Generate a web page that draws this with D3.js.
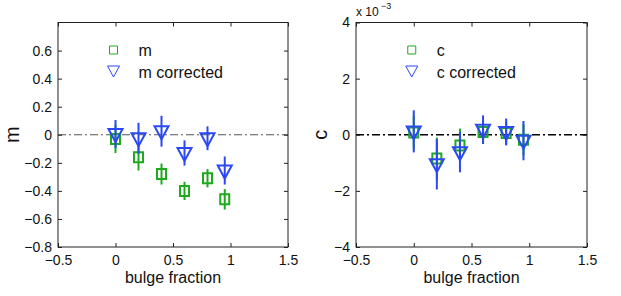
<!DOCTYPE html>
<html>
<head>
<meta charset="utf-8">
<script src="https://cdn.jsdelivr.net/npm/d3@7"></script>
<style>
body { margin: 0; background: #fff; }
text { font-family: "Liberation Sans", Arial, sans-serif; }
</style>
</head>
<body>
<script>
// bulge fraction positions
let fractions = [0, 0.2, 0.4, 0.6, 0.8, 0.95]

// left panel: m
let mVals = [-0.03, -0.16, -0.28, -0.40, -0.31, -0.46]
let mErr = [0.10, 0.095, 0.075, 0.065, 0.065, 0.073]
let mCorr = [0.005, -0.025, 0.025, -0.13, -0.025, -0.255]
let mCorrErr = [0.10, 0.11, 0.11, 0.09, 0.085, 0.10]

// right panel: c (units of 1e-3)
let cVals = [0.08, -0.85, -0.38, 0.10, 0.06, -0.18]
let cErr = [0.6, 0.75, 0.6, 0.42, 0.4, 0.55]
let cCorr = [0.12, -1.05, -0.62, 0.18, 0.10, -0.21]
let cCorrErr = [0.75, 0.9, 0.72, 0.51, 0.48, 0.70]

let xTicks = [-0.5, 0, 0.5, 1, 1.5]
let mTicks = [-0.8, -0.6, -0.4, -0.2, 0, 0.2, 0.4, 0.6]
let cTicks = [-4, -2, 0, 2, 4]

let width = 621
let height = 296
let green = '#1eaa1e'
let blue = '#2a48f5'

let svg = d3.select('body').append('svg')
    .attr('width', width)
    .attr('height', height)

function panel(opts){
    let x = d3.scaleLinear().domain([-0.5, 1.5]).range([opts.left, opts.right])
    let y = d3.scaleLinear().domain(opts.yDomain).range([247, 22.5])
    let g = svg.append('g')

    // zero reference line
    g.append('line')
        .attr('x1', x(-0.5)).attr('x2', x(1.5))
        .attr('y1', y(0)).attr('y2', y(0))
        .attr('stroke', opts.zeroColor)
        .attr('stroke-width', opts.zeroWidth)
        .attr('stroke-dasharray', '8,3,2,3')

    // box
    g.append('rect')
        .attr('x', x(-0.5)).attr('y', y(opts.yDomain[1]))
        .attr('width', x(1.5) - x(-0.5))
        .attr('height', y(opts.yDomain[0]) - y(opts.yDomain[1]))
        .attr('fill', 'none').attr('stroke', '#222').attr('stroke-width', 1)

    // axes (ticks inside)
    let xAxis = d3.axisBottom(x).tickValues(xTicks).tickSizeInner(-4).tickSizeOuter(0)
        .tickFormat(d => d3.format('')(d).replace('-', '\u2212'))
    let gx = g.append('g').attr('transform', 'translate(0,' + y(opts.yDomain[0]) + ')').call(xAxis)
    gx.select('.domain').remove()
    gx.selectAll('line').attr('stroke', '#222')
    gx.selectAll('text').attr('font-size', 14).attr('fill', '#111')
        .attr('transform', 'translate(0,5)')
    let gxt = g.append('g').attr('transform', 'translate(0,' + y(opts.yDomain[1]) + ')')
        .call(d3.axisTop(x).tickValues(xTicks).tickSizeInner(-4).tickSizeOuter(0).tickFormat(''))
    gxt.select('.domain').remove()
    gxt.selectAll('line').attr('stroke', '#222')

    let yAxis = d3.axisLeft(y).tickValues(opts.yTicks).tickSizeInner(-4).tickSizeOuter(0)
        .tickFormat(d => d3.format('')(d).replace('-', '\u2212'))
    let gy = g.append('g').attr('transform', 'translate(' + x(-0.5) + ',0)').call(yAxis)
    gy.select('.domain').remove()
    gy.selectAll('line').attr('stroke', '#222')
    gy.selectAll('text').attr('font-size', 14).attr('fill', '#111').attr('x', -6)
    let gyr = g.append('g').attr('transform', 'translate(' + x(1.5) + ',0)')
        .call(d3.axisRight(y).tickValues(opts.yTicks).tickSizeInner(-4).tickSizeOuter(0).tickFormat(''))
    gyr.select('.domain').remove()
    gyr.selectAll('line').attr('stroke', '#222')

    // labels
    g.append('text')
        .attr('x', (x(-0.5) + x(1.5)) / 2).attr('y', 283)
        .attr('text-anchor', 'middle').attr('font-size', 16).attr('fill', '#111')
        .text('bulge fraction')
    g.append('text')
        .attr('transform', 'translate(' + opts.ylabX + ',' + y(0) + ') rotate(-90)')
        .attr('text-anchor', 'middle').attr('font-size', opts.ylabSize).attr('fill', '#111')
        .text(opts.ylab)

    // series: squares first, then triangles on top
    let series = [
        {vals: opts.sq, err: opts.sqErr, color: green, shape: 'square'},
        {vals: opts.tri, err: opts.triErr, color: blue, shape: 'tri'}
    ]
    series.forEach(s => {
        let pts = fractions.map((f, i) => ({x: f, y: s.vals[i], e: s.err[i]}))
        g.selectAll(null).data(pts).enter().append('line')
            .attr('x1', d => x(d.x)).attr('x2', d => x(d.x))
            .attr('y1', d => y(d.y - d.e)).attr('y2', d => y(d.y + d.e))
            .attr('stroke', s.color).attr('stroke-width', 2)
        g.selectAll(null).data(pts).enter().append('path')
            .attr('transform', d => 'translate(' + x(d.x) + ',' + y(d.y) + ')')
            .attr('d', s.shape === 'square' ? 'M-4.5,-5H4.5V5H-4.5Z' : 'M-7,-5H7L0,8Z')
            .attr('fill', 'none').attr('stroke', s.color).attr('stroke-width', 2)
    })

    // legend
    let lx = x(0) - 2
    g.append('path').attr('transform', 'translate(' + lx + ',50)')
        .attr('d', 'M-4,-4H4V4H-4Z').attr('fill', 'none').attr('stroke', green).attr('stroke-width', 1)
    g.append('path').attr('transform', 'translate(' + lx + ',71)')
        .attr('d', 'M-6,-5H6L0,6Z').attr('fill', 'none').attr('stroke', blue).attr('stroke-width', 1)
    g.append('text').attr('x', lx + 25).attr('y', 56).attr('font-size', 16).attr('fill', '#111').text(opts.leg1)
    g.append('text').attr('x', lx + 25).attr('y', 78).attr('font-size', 16).attr('fill', '#111').text(opts.leg2)
}

panel({left: 58, right: 288, yDomain: [-0.8, 0.8], yTicks: mTicks,
       sq: mVals, sqErr: mErr, tri: mCorr, triErr: mCorrErr,
       zeroColor: '#555', zeroWidth: 1, ylab: 'm', ylabX: 19, ylabSize: 20,
       leg1: 'm', leg2: 'm corrected'})

panel({left: 356, right: 587, yDomain: [-4, 4], yTicks: cTicks,
       sq: cVals, sqErr: cErr, tri: cCorr, triErr: cCorrErr,
       zeroColor: '#000', zeroWidth: 1.6, ylab: 'c', ylabX: 327, ylabSize: 20,
       leg1: 'c', leg2: 'c corrected'})

// exponent note for the right panel
svg.append('text').attr('x', 356).attr('y', 16).attr('font-size', 12).attr('fill', '#111').text('x 10')
svg.append('text').attr('x', 381).attr('y', 9).attr('font-size', 9).attr('fill', '#111').text('\u22123')
</script>
</body>
</html>
